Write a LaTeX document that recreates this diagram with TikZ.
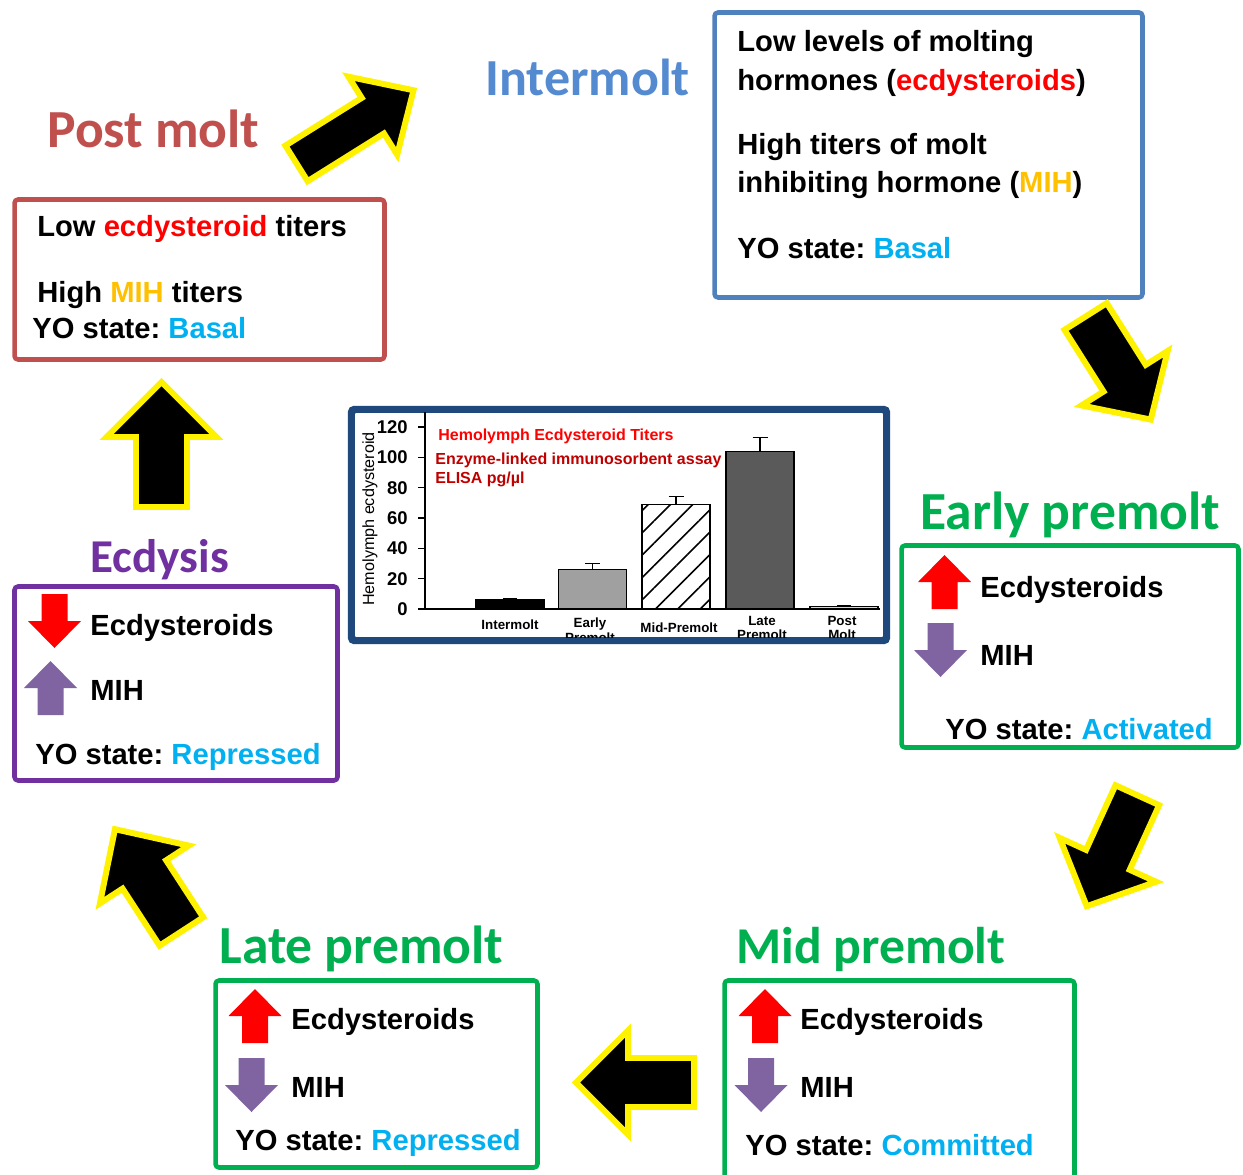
\documentclass[tikz,border=0pt]{standalone}
\usepackage{fontspec}
\setmainfont{Liberation Sans}
\newfontfamily\stagefont{Carlito}
\usetikzlibrary{patterns.meta}
\definecolor{PostRed}{RGB}{192,80,77}
\definecolor{InterBlue}{RGB}{79,129,189}
\definecolor{InterTitle}{RGB}{84,138,208}
\definecolor{PremoltGreen}{RGB}{0,176,80}
\definecolor{EcdPurple}{RGB}{112,48,160}
\definecolor{StateCyan}{RGB}{0,176,240}
\definecolor{MihOrange}{RGB}{255,192,0}
\definecolor{MihPurple}{RGB}{128,100,162}
\definecolor{ChartNavy}{RGB}{31,73,125}
\definecolor{TiterRed}{RGB}{255,0,0}
\definecolor{AssayRed}{RGB}{192,0,0}
\definecolor{BarGray}{RGB}{160,160,160}
\definecolor{BarDark}{RGB}{90,90,90}
\definecolor{BarLight}{RGB}{215,215,215}
\frenchspacing

\begin{document}
\begin{tikzpicture}[
    x=0.02cm, y=-0.02cm,
    stagebox/.style={draw=#1, line width=2.6pt, rounded corners=2pt,
                     inner sep=0pt, fill=white},
    stagetitle/.style={font=\stagefont\bfseries\fontsize{30.5}{36}\selectfont,
                       text=#1, inner sep=0pt, anchor=base west},
    txt/.style={font=\bfseries\fontsize{16.6}{20}\selectfont, inner sep=0pt, anchor=base west},
    blockarr/.style={fill=black, draw=yellow, line width=3.4pt, line join=miter},
    ticklbl/.style={font=\bfseries\fontsize{10.5}{12}\selectfont, inner sep=0pt, anchor=east},
    catlbl/.style={font=\bfseries\fontsize{7.6}{8}\selectfont, inner sep=0pt,
                   align=center, anchor=north},
    chartnote/.style={font=\bfseries\fontsize{9.1}{11}\selectfont, text=#1,
                      inner sep=0pt, anchor=base west},
    bar/.style={draw=black, line width=0.7pt},
    errbar/.style={draw=black, line width=0.7pt},
    pics/blockarrow/.style args={#1/#2/#3/#4}{code={
        \draw[blockarr] (0,-#4) -- ({#1-#2},-#4) -- ({#1-#2},-#3) -- (#1,0)
            -- ({#1-#2},#3) -- ({#1-#2},#4) -- (0,#4) -- cycle;
    }},
    pics/hormup/.style={code={
        \fill[#1] (-13,27) -- (-13,0) -- (-26.5,0) -- (0,-27) -- (26.5,0) -- (13,0) -- (13,27) -- cycle;
    }},
    pics/hormdown/.style={code={
        \fill[#1] (-13,-27) -- (-13,0) -- (-26.5,0) -- (0,27) -- (26.5,0) -- (13,0) -- (13,-27) -- cycle;
    }},
]
\useasboundingbox (0,0) rectangle (1243,1175);
\clip (0,0) rectangle (1243,1175);

% ── Stage boxes ──
\node[stagebox=PostRed, minimum width=7.40cm, minimum height=3.20cm] (postBox) at (199.5,279.5) {};
\node[stagebox=InterBlue, minimum width=8.56cm, minimum height=5.70cm] (interBox) at (928.5,155) {};
\node[stagebox=PremoltGreen, minimum width=6.74cm, minimum height=4.04cm] (earlyBox) at (1070,646.5) {};
\node[stagebox=PremoltGreen, minimum width=7.00cm, minimum height=4.19cm] (midBox) at (899.5,1085.25) {};
\node[stagebox=PremoltGreen, minimum width=6.44cm, minimum height=3.74cm] (lateBox) at (376.5,1074) {};
\node[stagebox=EcdPurple, minimum width=6.46cm, minimum height=3.88cm] (ecdBox) at (176,683.5) {};
\node[stagebox=ChartNavy, minimum width=10.66cm, minimum height=4.58cm] (chartBox) at (619,525) {};

% ── Stage titles ──
\node[stagetitle=PostRed] (postTitle) at (47,148) {Post molt};
\node[stagetitle=InterTitle, font=\stagefont\bfseries\fontsize{29.6}{36}\selectfont]
    (interTitle) at (485,96) {Intermolt};
\node[stagetitle=PremoltGreen] (earlyTitle) at (920,529) {Early premolt};
\node[stagetitle=PremoltGreen, font=\stagefont\bfseries\fontsize{29.4}{36}\selectfont]
    (midTitle) at (736,963) {Mid premolt};
\node[stagetitle=PremoltGreen] (lateTitle) at (219,963) {Late premolt};
\node[stagetitle=EcdPurple, font=\stagefont\bfseries\fontsize{26.8}{32}\selectfont]
    (ecdTitle) at (90,572) {Ecdysis};

% ── Intermolt ──
\node[txt] (interL1) at (737,52) {Low levels of molting};
\node[txt] (interL2) at (737,91) {hormones (\textcolor{TiterRed}{ecdysteroids})};
\node[txt] (interL3) at (737,155) {High titers of molt};
\node[txt] (interL4) at (737,193) {inhibiting hormone (\textcolor{MihOrange}{MIH})};
\node[txt] (interYO) at (737,259) {YO state: \textcolor{StateCyan}{Basal}};

% ── Post molt ──
\node[txt] (postL1) at (37,237) {Low \textcolor{TiterRed}{ecdysteroid} titers};
\node[txt] (postL2) at (37,303) {High \textcolor{MihOrange}{MIH} titers};
\node[txt] (postYO) at (32,339) {YO state: \textcolor{StateCyan}{Basal}};

% ── Early premolt ──
\pic at (944.5,582) {hormup=TiterRed};
\pic at (940.5,650) {hormdown=MihPurple};
\node[txt] (earlyEcd) at (980,597) {Ecdysteroids};
\node[txt] (earlyMih) at (980,665) {MIH};
\node[txt] (earlyYO) at (945,739) {YO state: \textcolor{StateCyan}{Activated}};

% ── Mid premolt ──
\pic at (765,1016) {hormup=TiterRed};
\pic at (761,1085) {hormdown=MihPurple};
\node[txt] (midEcd) at (800,1029) {Ecdysteroids};
\node[txt] (midMih) at (800,1097) {MIH};
\node[txt] (midYO) at (745,1155) {YO state: \textcolor{StateCyan}{Committed}};

% ── Late premolt ──
\pic at (255,1016) {hormup=TiterRed};
\pic at (251.5,1085) {hormdown=MihPurple};
\node[txt] (lateEcd) at (291,1029) {Ecdysteroids};
\node[txt] (lateMih) at (291,1097) {MIH};
\node[txt] (lateYO) at (235,1150) {YO state: \textcolor{StateCyan}{Repressed}};

% ── Ecdysis ──
\pic at (54.5,621) {hormdown=TiterRed};
\pic at (50.5,688) {hormup=MihPurple};
\node[txt] (ecdEcd) at (90,635) {Ecdysteroids};
\node[txt] (ecdMih) at (90,700) {MIH};
\node[txt] (ecdYO) at (35,764) {YO state: \textcolor{StateCyan}{Repressed}};

% ── Cycle arrows ──
\pic[rotate=32] at (296.5,163.4) {blockarrow=138/48/46/21};
\pic[rotate=-57.7] at (1085.6,316.5) {blockarrow=122/49/51/25};
\pic[rotate=-114.5] at (1137.3,795.2) {blockarrow=122/51/53/24};
\pic[rotate=180] at (694,1082.5) {blockarrow=118/52/52/24.5};
\pic[rotate=123] at (181.4,931.5) {blockarrow=122/54/53/26};
\pic[rotate=90] at (161.5,507) {blockarrow=125/55/55/25.5};

% ── Titer chart ──
\begin{scope}
\clip (355,413) rectangle (883,637);
\node[chartnote=TiterRed] (chartHead) at (438,440) {Hemolymph Ecdysteroid Titers};
\node[chartnote=AssayRed] (chartAssay) at (435,464) {Enzyme-linked immunosorbent assay};
\node[chartnote=AssayRed] (chartUnit) at (435,483) {ELISA pg/µl};
\node[font=\fontsize{9.2}{11}\selectfont, rotate=90, inner sep=0pt] (chartYlbl) at (370,519) {Hemolymph ecdysteroid};

\begin{scope}[shift={(0,609)}, y=0.030334cm]
\draw[line width=0.7pt] (425,130) -- (425,0) -- (880,0);
\foreach \v in {0,20,...,120} {
    \draw[line width=0.7pt] (418,\v) -- (425,\v);
    \node[ticklbl] at (408,\v) {\v};
}
% bars
\draw[bar, fill=black] (476,0) rectangle (544,6);
\draw[bar, fill=BarGray] (558.5,0) rectangle (626.5,26);
\draw[bar, fill=white, pattern={Lines[angle=45,distance=9pt,line width=0.9pt]}] (642,0) rectangle (710,69);
\draw[bar, fill=BarDark] (726,0) rectangle (794,104);
\draw[bar, fill=BarLight] (810,0) rectangle (878,1.5);
% error bars
\draw[errbar] (510,6) -- (510,6.6) (503,6.6) -- (517,6.6);
\draw[errbar] (592.5,26) -- (592.5,30) (585,30) -- (600,30);
\draw[errbar] (676,69) -- (676,74) (668.5,74) -- (683.5,74);
\draw[errbar] (760,104) -- (760,113) (752.5,113) -- (767.5,113);
\draw[errbar] (844,1.5) -- (844,2) (837,2) -- (851,2);
% categories
\node[catlbl] (catInter) at (510,-6.6) {Intermolt};
\node[catlbl] (catEarly) at (590,-5.9) {Early\\Premolt};
\node[catlbl] (catMid) at (679,-8.6) {Mid-Premolt};
\node[catlbl] (catLate) at (762,-4.6) {Late\\Premolt};
\node[catlbl] (catPost) at (842,-4.6) {Post\\Molt};
\end{scope}
\end{scope}
\draw[draw=ChartNavy, line width=2.6pt, rounded corners=2pt] (chartBox.north west) rectangle (chartBox.south east);

\end{tikzpicture}
\end{document}
